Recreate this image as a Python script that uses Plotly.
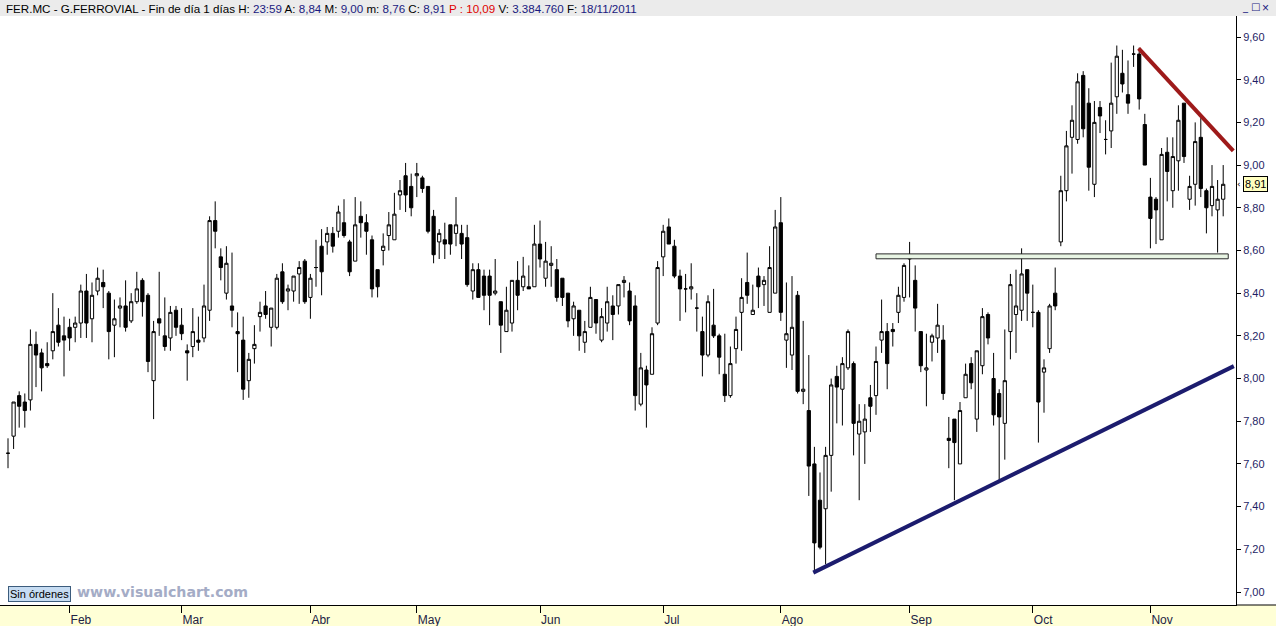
import plotly.graph_objects as go

# ---------------- data ----------------
OPEN = [7.65,7.73,7.92,7.89,7.90,8.16,8.12,8.07,8.13,8.25,8.20,8.24,8.24,8.26,8.41,8.28,8.41,8.45,8.40,8.25,
        8.33,8.34,8.27,8.36,8.46,8.39,7.99,8.28,8.20,8.19,8.32,8.25,8.13,8.15,8.18,8.19,8.32,8.74,8.57,8.40,
        8.34,8.22,8.18,7.99,8.14,8.29,8.34,8.24,8.24,8.50,8.41,8.41,8.49,8.55,8.38,8.52,8.62,8.64,8.68,8.69,
        8.73,8.64,8.55,8.76,8.73,8.65,8.51,8.60,8.67,8.65,8.86,8.95,8.90,8.95,8.94,8.90,8.76,8.64,8.65,8.72,
        8.68,8.68,8.66,8.41,8.51,8.48,8.48,8.40,8.36,8.22,8.26,8.46,8.43,8.43,8.43,8.63,8.47,8.53,8.51,8.47,
        8.40,8.28,8.32,8.17,8.24,8.37,8.18,8.26,8.34,8.34,8.45,8.41,8.34,7.88,8.04,8.02,8.26,8.57,8.71,8.62,
        8.48,8.42,8.42,8.33,8.22,8.11,8.25,8.20,8.02,7.92,8.14,8.31,8.45,8.30,8.48,8.44,8.31,8.40,8.73,8.18,
        8.11,8.39,7.94,7.85,7.60,7.43,7.39,7.64,8.01,7.95,8.05,8.07,7.74,7.75,7.91,7.92,8.18,8.22,8.23,8.31,
        8.38,8.58,8.46,8.22,8.04,8.17,8.19,8.18,7.72,7.81,7.60,7.91,8.07,7.81,8.06,8.30,8.00,7.93,7.79,8.22,
        8.30,8.32,8.51,8.31,8.31,8.03,8.14,8.40,8.64,8.88,9.13,9.12,9.42,9.29,8.91,9.27,9.12,9.16,9.32,9.43,
        9.33,9.52,9.52,9.19,8.85,8.84,8.65,9.06,8.88,9.02,9.29,8.84,8.91,9.13,8.88,8.81,8.79,8.84]
HIGH = [7.72,7.89,7.94,7.93,8.23,8.22,8.14,8.17,8.40,8.33,8.29,8.28,8.29,8.44,8.49,8.45,8.52,8.51,8.41,8.37,
        8.38,8.46,8.40,8.50,8.47,8.40,8.27,8.50,8.38,8.34,8.34,8.33,8.16,8.33,8.29,8.44,8.76,8.83,8.61,8.62,
        8.59,8.31,8.29,8.12,8.25,8.36,8.41,8.33,8.49,8.54,8.44,8.48,8.55,8.56,8.49,8.65,8.70,8.71,8.71,8.81,
        8.84,8.65,8.85,8.83,8.77,8.67,8.51,8.68,8.78,8.87,8.93,9.01,8.96,9.01,8.95,8.90,8.79,8.70,8.73,8.72,
        8.85,8.72,8.72,8.54,8.54,8.51,8.51,8.56,8.36,8.43,8.46,8.55,8.57,8.53,8.72,8.74,8.64,8.62,8.56,8.47,
        8.40,8.36,8.32,8.27,8.43,8.37,8.33,8.43,8.39,8.44,8.48,8.45,8.39,8.12,8.06,8.24,8.55,8.72,8.75,8.65,
        8.51,8.49,8.54,8.40,8.29,8.39,8.42,8.21,8.21,8.15,8.29,8.47,8.59,8.44,8.52,8.48,8.62,8.79,8.85,8.45,
        8.48,8.41,8.27,8.11,7.68,7.56,7.68,8.00,8.06,8.10,8.23,8.08,7.88,7.88,7.97,8.15,8.37,8.26,8.26,8.43,
        8.54,8.64,8.53,8.22,8.21,8.21,8.35,8.25,7.82,7.81,7.89,8.07,8.10,8.13,8.33,8.31,8.12,7.95,8.23,8.49,
        8.51,8.61,8.51,8.44,8.32,8.09,8.35,8.52,8.95,9.16,9.28,9.43,9.44,9.36,9.30,9.30,9.21,9.48,9.56,9.54,
        9.49,9.56,9.55,9.24,8.94,8.85,9.08,9.13,9.13,9.28,9.29,8.95,9.20,9.22,8.89,9.00,8.93,9.00]
LOW = [7.58,7.67,7.77,7.77,7.85,7.96,7.94,8.05,8.09,8.15,8.01,8.13,8.17,8.19,8.19,8.17,8.39,8.33,8.09,8.10,
       8.24,8.22,8.26,8.35,8.29,8.03,7.81,8.20,8.13,8.13,8.20,8.18,7.99,8.10,8.13,8.17,8.27,8.61,8.46,8.37,
       8.24,8.03,7.90,7.91,8.07,8.22,8.28,8.15,8.23,8.35,8.32,8.36,8.35,8.35,8.28,8.43,8.39,8.58,8.59,8.66,
       8.66,8.48,8.55,8.66,8.58,8.38,8.38,8.53,8.60,8.65,8.79,8.78,8.76,8.85,8.87,8.68,8.54,8.56,8.56,8.58,
       8.62,8.56,8.43,8.37,8.38,8.32,8.25,8.39,8.12,8.22,8.22,8.32,8.41,8.42,8.43,8.52,8.43,8.43,8.36,8.34,
       8.24,8.20,8.13,8.12,8.24,8.21,8.17,8.22,8.18,8.30,8.38,8.25,7.85,7.87,7.77,8.02,8.25,8.48,8.63,8.47,
       8.27,8.31,8.37,8.22,8.01,8.10,8.19,8.02,7.89,7.91,8.07,8.13,8.35,8.30,8.33,8.34,8.31,8.40,8.27,8.05,
       8.04,7.93,7.88,7.45,7.09,7.20,7.13,7.47,7.79,7.78,8.04,7.64,7.43,7.60,7.75,7.83,8.12,7.95,8.15,8.26,
       8.36,8.38,8.22,8.03,7.87,8.08,8.12,7.90,7.58,7.43,7.60,7.91,7.95,7.75,8.02,8.16,7.78,7.52,7.62,8.09,
       8.12,8.27,8.27,8.24,7.70,7.84,8.12,8.32,8.62,8.83,8.96,9.10,9.13,8.88,8.85,9.15,9.05,9.08,9.24,9.34,
       9.24,9.46,9.26,9.00,8.61,8.63,8.65,8.83,8.80,8.88,9.01,8.79,8.81,8.85,8.68,8.76,8.59,8.76]
CLOSE = [7.65,7.89,7.87,7.85,8.16,8.11,8.05,8.06,8.22,8.17,8.18,8.19,8.26,8.41,8.26,8.39,8.47,8.43,8.22,8.28,
         8.34,8.24,8.36,8.42,8.36,8.08,8.22,8.26,8.15,8.31,8.24,8.21,8.12,8.22,8.17,8.34,8.74,8.69,8.52,8.54,
         8.32,8.21,7.95,8.09,8.16,8.31,8.30,8.33,8.47,8.36,8.42,8.48,8.52,8.36,8.47,8.52,8.50,8.68,8.62,8.78,
         8.67,8.50,8.72,8.73,8.69,8.42,8.43,8.62,8.72,8.77,8.88,8.86,8.80,8.96,8.89,8.69,8.58,8.68,8.63,8.63,
         8.72,8.63,8.44,8.51,8.38,8.39,8.39,8.41,8.25,8.32,8.46,8.39,8.48,8.42,8.63,8.56,8.55,8.54,8.38,8.38,
         8.27,8.34,8.20,8.22,8.38,8.26,8.29,8.36,8.30,8.44,8.46,8.27,7.92,8.05,7.97,8.21,8.52,8.69,8.63,8.48,
         8.42,8.42,8.43,8.33,8.11,8.36,8.20,8.10,7.92,8.07,8.23,8.38,8.39,8.32,8.43,8.46,8.52,8.71,8.31,8.21,
         8.24,7.94,7.95,7.59,7.23,7.21,7.64,7.97,7.96,8.07,8.22,7.79,7.80,7.81,7.87,8.08,8.22,8.07,8.22,8.39,
         8.53,8.56,8.33,8.06,8.05,8.20,8.25,7.93,7.71,7.70,7.85,8.02,7.98,8.13,8.29,8.19,7.83,7.82,7.99,8.44,
         8.34,8.49,8.40,8.31,7.89,8.05,8.34,8.34,8.88,9.09,9.21,9.39,9.17,8.99,9.20,9.23,9.12,9.29,9.51,9.38,
         9.29,9.52,9.31,9.00,8.75,8.79,9.05,8.97,9.04,9.21,9.04,8.90,9.11,8.89,8.80,8.90,8.84,8.91]

MONTH_START_IDX = [11, 31, 54, 73, 95, 117, 138, 161, 183, 204]
MONTH_LABELS = ["Feb", "Mar", "Abr", "May", "Jun", "Jul", "Ago", "Sep", "Oct", "Nov"]
PRICE_TICKS = [7.0, 7.2, 7.4, 7.6, 7.8, 8.0, 8.2, 8.4, 8.6, 8.8, 9.0, 9.2, 9.4, 9.6]

# drawn annotations (bar index, price)
RED_TREND_X = [201.9, 218.8]
RED_TREND_Y = [9.547, 9.067]
BLUE_TREND_X = [143.8, 218.9]
BLUE_TREND_Y = [7.091, 8.058]
ZONE_X = [155.0, 217.9]
ZONE_Y = [8.561, 8.584]

TICKER = "FER.MC - G.FERROVIAL - Fin de día 1 días"
HOUR = "23:59"
PREV = "10,09"
VOLUME = "3.384.760"
DATE = "18/11/2011"

# ---------------- figure ----------------
W, H = 1276, 626
ML, MR, MT, MB = 0, 40, 16, 21
PW, PH = W - ML - MR, H - MT - MB

idx = list(range(len(CLOSE)))


def fmt(v):
    return f"{v:.2f}".replace(".", ",")


fig = go.Figure()

zx = [ZONE_X[0], ZONE_X[1], ZONE_X[1], ZONE_X[0], ZONE_X[0]]
zy = [ZONE_Y[0], ZONE_Y[0], ZONE_Y[1], ZONE_Y[1], ZONE_Y[0]]
fig.add_trace(go.Scatter(x=zx, y=zy, mode="lines", fill="toself",
                         fillcolor="#e8f5e4", line=dict(color="#2a2a2a", width=1),
                         hoverinfo="skip", showlegend=False))

fig.add_trace(go.Candlestick(
    x=idx, open=OPEN, high=HIGH, low=LOW, close=CLOSE,
    increasing=dict(fillcolor="#ffffff", line=dict(color="#000000", width=1)),
    decreasing=dict(fillcolor="#000000", line=dict(color="#000000", width=1)),
    whiskerwidth=0, showlegend=False))

fig.add_trace(go.Scatter(x=RED_TREND_X, y=RED_TREND_Y, mode="lines",
                         line=dict(color="#9e1a1a", width=4), showlegend=False, hoverinfo="skip"))
fig.add_trace(go.Scatter(x=BLUE_TREND_X, y=BLUE_TREND_Y, mode="lines",
                         line=dict(color="#1c1c6e", width=4), showlegend=False, hoverinfo="skip"))


def px_x(p):
    return (p - ML) / PW


def px_y(p):
    return (H - MB - p) / PH


shapes = [
    # header band
    dict(type="rect", xref="paper", yref="paper", x0=px_x(0), x1=px_x(W), y0=px_y(MT), y1=px_y(0),
         fillcolor="#ebebeb", line=dict(width=0), layer="below"),
    # bottom band
    dict(type="rect", xref="paper", yref="paper", x0=px_x(0), x1=px_x(W), y0=px_y(H), y1=px_y(H - MB),
         fillcolor="#ffffd6", line=dict(width=0), layer="below"),
    dict(type="line", xref="paper", yref="paper", x0=px_x(PW), x1=px_x(W), y0=0, y1=0,
         line=dict(color="#000000", width=1)),
]

navy = "#1a1a80"
header = (f'{TICKER} H: <span style="color:{navy}">{HOUR}</span> '
          f'A: <span style="color:{navy}">{fmt(OPEN[-1])}</span> '
          f'M: <span style="color:{navy}">{fmt(HIGH[-1])}</span> '
          f'm: <span style="color:{navy}">{fmt(LOW[-1])}</span> '
          f'C: <span style="color:{navy}">{fmt(CLOSE[-1])}</span> '
          f'<span style="color:#e00000">P : {PREV}</span> '
          f'V: <span style="color:{navy}">{VOLUME}</span> '
          f'F: <span style="color:{navy}">{DATE}</span>')

annotations = [
    dict(xref="paper", yref="paper", x=px_x(4), y=px_y(8), xanchor="left", yanchor="middle",
         text=header, showarrow=False, font=dict(family="Liberation Sans", size=11.6, color="#000000")),
    dict(xref="paper", yref="paper", x=px_x(1245), y=px_y(7), xanchor="center", yanchor="middle",
         text="_", showarrow=False, font=dict(family="DejaVu Sans", size=10, color=navy)),
    dict(xref="paper", yref="paper", x=px_x(1255), y=px_y(7), xanchor="center", yanchor="middle",
         text="□", showarrow=False, font=dict(family="DejaVu Sans", size=10, color=navy)),
    dict(xref="paper", yref="paper", x=px_x(1265), y=px_y(8), xanchor="center", yanchor="middle",
         text="×", showarrow=False, font=dict(family="Liberation Sans", size=12, color=navy)),
    dict(xref="paper", yref="paper", x=px_x(8), y=px_y(594), xanchor="left", yanchor="middle",
         text="Sin órdenes", showarrow=False, bgcolor="#c6dcf2", bordercolor="#3c5c7c",
         borderwidth=1, borderpad=1, font=dict(family="Liberation Sans", size=11, color="#000000")),
    dict(xref="paper", yref="paper", x=px_x(75), y=px_y(592), xanchor="left", yanchor="middle",
         text="<b>www.visualchart.com</b>", showarrow=False,
         font=dict(family="DejaVu Sans", size=14.2, color="#a4acc6")),
    dict(xref="paper", yref="y", x=px_x(1255), y=CLOSE[-1], xanchor="center", yanchor="middle",
         text=fmt(CLOSE[-1]), showarrow=False, bgcolor="#ffffc0",
         bordercolor="#000000", borderwidth=1, borderpad=1,
         font=dict(family="Liberation Sans", size=11, color="#000000")),
    dict(xref="paper", yref="y", x=px_x(1239), y=CLOSE[-1], xanchor="center", yanchor="middle",
         text="‹", showarrow=False, font=dict(family="DejaVu Sans", size=9, color="#000000")),
]

y_top = 9.6 + (37 - MT) / 213.5
y_bot = 7.0 - (H - MB - 592) / 213.5
x_left = -(8 - ML) / 5.6
x_right = (PW - 8) / 5.6

fig.update_layout(
    width=W, height=H, margin=dict(l=ML, r=MR, t=MT, b=MB, pad=0),
    paper_bgcolor="#ffffff", plot_bgcolor="#ffffff",
    separators=",.", showlegend=False, boxgap=0.18,
    shapes=shapes, annotations=annotations,
    xaxis=dict(range=[x_left, x_right], tickvals=MONTH_START_IDX, ticktext=MONTH_LABELS,
               ticks="outside", ticklen=7, tickcolor="#000000", tickwidth=1,
               ticklabelposition="outside right", ticklabelstandoff=4,
               tickfont=dict(family="Liberation Sans", size=12, color="#222244"),
               showgrid=False, zeroline=False, showline=True, linecolor="#000000", linewidth=1,
               rangeslider=dict(visible=False)),
    yaxis=dict(side="right", range=[y_bot, y_top], tickvals=PRICE_TICKS, tickformat=".2f",
               ticks="outside", ticklen=4, tickcolor="#000000",
               tickfont=dict(family="Liberation Sans", size=11, color="#1e1e66"),
               showgrid=False, zeroline=False, showline=True, linecolor="#000000", linewidth=1),
)

fig.write_html("out.html", config={"displayModeBar": False},
               post_script="document.body.style.margin='0px';document.body.style.overflow='hidden';")
